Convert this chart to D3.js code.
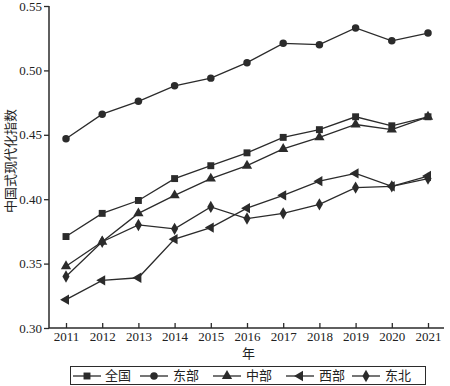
<!DOCTYPE html>
<html>
<head>
<meta charset="utf-8">
<script src="https://cdn.jsdelivr.net/npm/d3@7"></script>
<style>
  body { margin: 0; background: #fff; }
  svg { display: block; }
  .tick text { font-family: "Liberation Serif", "Times New Roman", serif; font-size: 13px; fill: #222; }
  .cn { font-family: "Noto Sans CJK SC", sans-serif; fill: #222; }
</style>
</head>
<body>
<svg id="chart" width="450" height="386"></svg>
<script>
const years = [2011, 2012, 2013, 2014, 2015, 2016, 2017, 2018, 2019, 2020, 2021];
const yTicks = [0.30, 0.35, 0.40, 0.45, 0.50, 0.55];

const quanguo = [0.371, 0.389, 0.399, 0.416, 0.426, 0.436, 0.448, 0.454, 0.464, 0.457, 0.464];
const dongbu  = [0.447, 0.466, 0.476, 0.488, 0.494, 0.506, 0.521, 0.520, 0.533, 0.523, 0.529];
const zhongbu = [0.348, 0.367, 0.389, 0.403, 0.416, 0.426, 0.439, 0.448, 0.458, 0.454, 0.464];
const xibu    = [0.322, 0.337, 0.339, 0.369, 0.378, 0.393, 0.403, 0.414, 0.420, 0.410, 0.418];
const dongbei = [0.340, 0.367, 0.380, 0.377, 0.394, 0.385, 0.389, 0.396, 0.409, 0.410, 0.416];

const series = [
  { name: '全国', values: quanguo, symbol: d3.symbolSquare, size: 48, rotate: 0 },
  { name: '东部', values: dongbu, symbol: d3.symbolCircle, size: 44, rotate: 0 },
  { name: '中部', values: zhongbu, symbol: d3.symbolTriangle, size: 46, rotate: 0 },
  { name: '西部', values: xibu, symbol: d3.symbolTriangle, size: 46, rotate: -90 },
  { name: '东北', values: dongbei, symbol: d3.symbolDiamond, size: 44, rotate: 0 }
];

const ink = '#2b2b2b';
const margin = { left: 49, right: 444, top: 6, bottom: 328 };

const svg = d3.select('#chart');

const x = d3.scaleLinear().domain([2011, 2021]).range([66, 428]);
const y = d3.scaleLinear().domain([0.30, 0.55]).range([margin.bottom, margin.top]);

// x axis
const xAxis = svg.append('g')
  .attr('transform', 'translate(0,' + margin.bottom + ')')
  .call(d3.axisBottom(x).tickValues(years).tickFormat(d3.format('d')).tickSizeInner(-5).tickSizeOuter(0));
xAxis.select('.domain').remove();
xAxis.selectAll('.tick line').attr('stroke', ink).attr('stroke-width', 1.3);
xAxis.selectAll('.tick text').attr('y', 4).attr('dy', '0.71em');

// y axis
const yAxis = svg.append('g')
  .attr('transform', 'translate(' + margin.left + ',0)')
  .call(d3.axisLeft(y).tickValues(yTicks).tickFormat(d3.format('.2f')).tickSizeInner(5).tickSizeOuter(0));
yAxis.select('.domain').remove();
yAxis.selectAll('.tick line').attr('stroke', ink).attr('stroke-width', 1.3);
yAxis.selectAll('.tick text').attr('x', -7);

// axis lines
svg.append('path')
  .attr('d', 'M' + margin.left + ',' + margin.top + 'V' + margin.bottom + 'H' + margin.right)
  .attr('fill', 'none')
  .attr('stroke', ink)
  .attr('stroke-width', 1.5);

// axis titles
svg.append('text')
  .attr('class', 'cn')
  .attr('transform', 'translate(15,161) rotate(-90)')
  .attr('text-anchor', 'middle')
  .style('font-size', '13px')
  .text('中国式现代化指数');

svg.append('text')
  .attr('class', 'cn')
  .attr('x', (margin.left + margin.right) / 2 + 2)
  .attr('y', 358)
  .attr('text-anchor', 'middle')
  .style('font-size', '13px')
  .text('年');

// lines and markers
const line = d3.line()
  .x((d, i) => x(years[i]))
  .y(d => y(d));

series.forEach(s => {
  svg.append('path')
    .datum(s.values)
    .attr('d', line)
    .attr('fill', 'none')
    .attr('stroke', ink)
    .attr('stroke-width', 1.3);

  svg.selectAll(null)
    .data(s.values)
    .enter().append('path')
    .attr('d', d3.symbol().type(s.symbol).size(s.size))
    .attr('transform', (d, i) => 'translate(' + x(years[i]) + ',' + y(d) + ') rotate(' + s.rotate + ')')
    .attr('fill', ink);
});

// legend
const legend = svg.append('g');
legend.append('rect')
  .attr('x', 70.5).attr('y', 366.5)
  .attr('width', 355).attr('height', 18)
  .attr('fill', '#fff')
  .attr('stroke', ink)
  .attr('stroke-width', 1);

const legendX = [73, 140, 213, 286, 352];
series.forEach((s, i) => {
  const g = legend.append('g').attr('transform', 'translate(' + legendX[i] + ',376)');
  g.append('line')
    .attr('x1', 0).attr('x2', 28)
    .attr('stroke', ink).attr('stroke-width', 1.3);
  g.append('path')
    .attr('d', d3.symbol().type(s.symbol).size(s.size))
    .attr('transform', 'translate(14,0) rotate(' + s.rotate + ')')
    .attr('fill', ink);
  g.append('text')
    .attr('class', 'cn')
    .attr('x', 32 + (i > 0 ? 1 : 0))
    .attr('dominant-baseline', 'middle')
    .style('font-size', '13px')
    .text(s.name);
});
</script>
</body>
</html>
